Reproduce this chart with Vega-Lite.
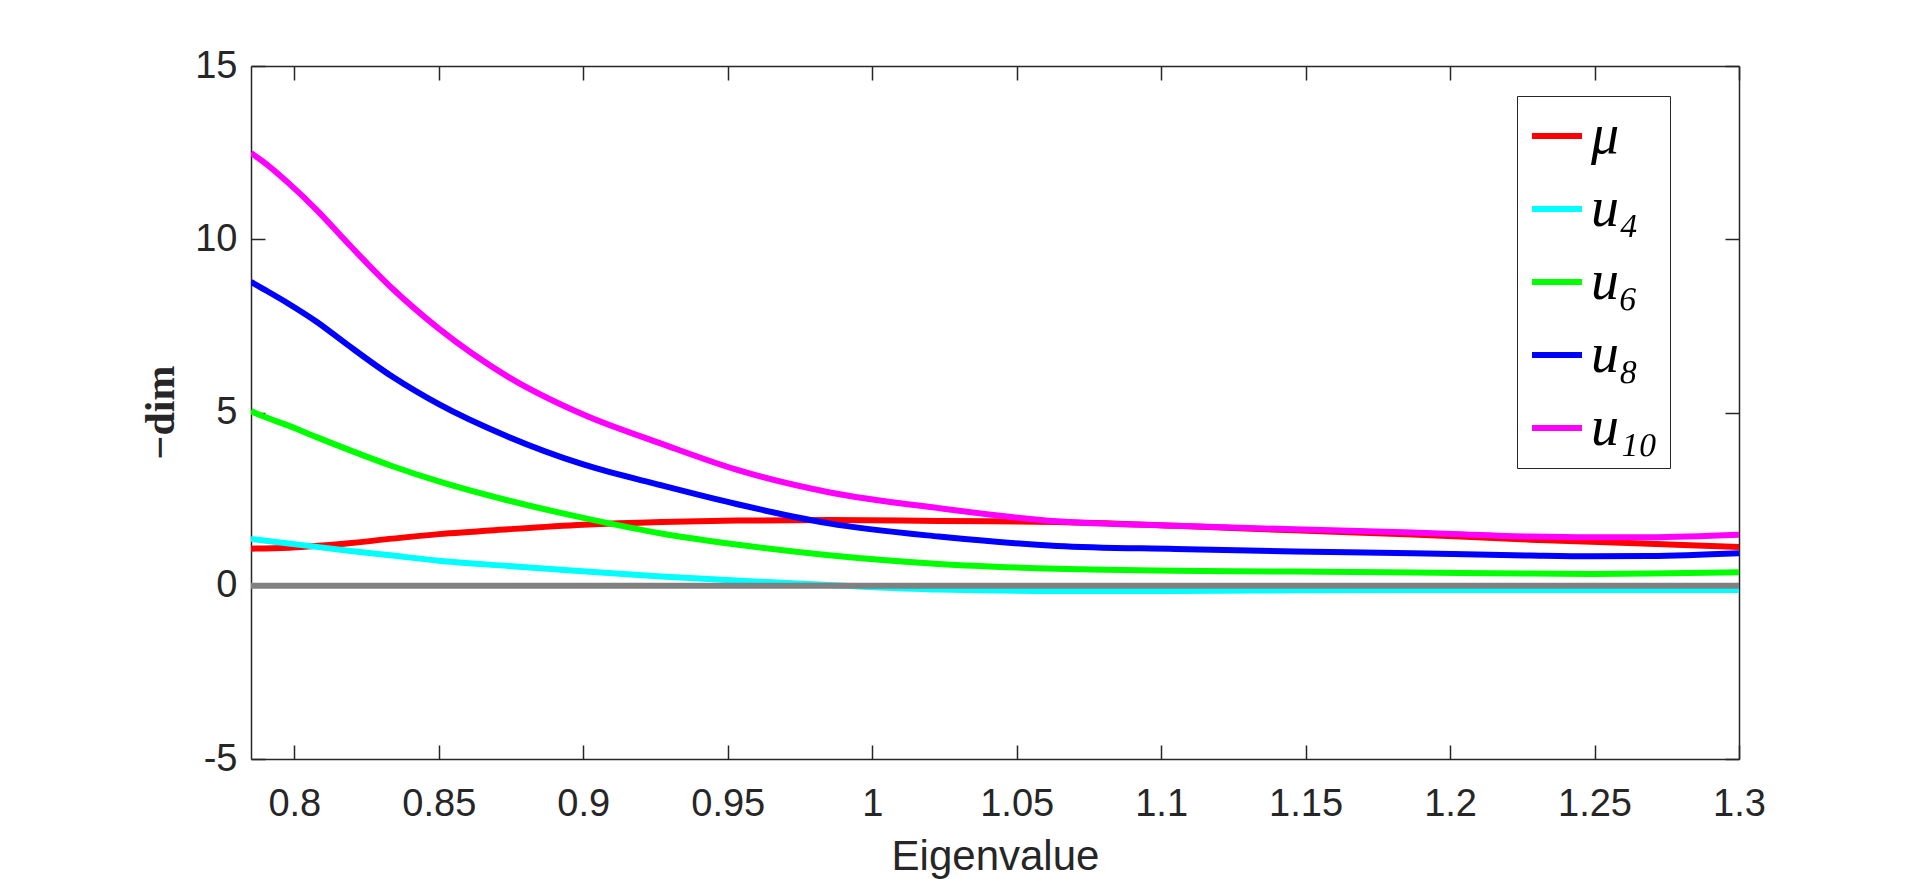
{
  "$schema": "https://vega.github.io/schema/vega-lite/v6.json",
  "width": 1488,
  "height": 693,
  "autosize": {"type": "none"},
  "padding": {"left": 251, "top": 66, "right": 181, "bottom": 120},
  "background": "white",
  "config": {
    "view": {"stroke": null},
    "axis": {
      "grid": false,
      "domainColor": "#262626",
      "domainWidth": 1.5,
      "tickColor": "#262626",
      "tickWidth": 1.5,
      "tickSize": -14,
      "labelColor": "#262626",
      "labelFont": "Liberation Sans",
      "labelFontSize": 38,
      "labelFlush": false,
      "labelOverlap": false,
      "labelBound": false,
      "titleColor": "#262626"
    }
  },
  "datasets": {
    "curves": [
      {"s": "μ", "x": 0.785, "y": 1.07},
      {"s": "μ", "x": 0.798, "y": 1.1},
      {"s": "μ", "x": 0.818, "y": 1.22},
      {"s": "μ", "x": 0.834, "y": 1.36},
      {"s": "μ", "x": 0.85, "y": 1.49},
      {"s": "μ", "x": 0.874, "y": 1.63},
      {"s": "μ", "x": 0.9, "y": 1.76},
      {"s": "μ", "x": 0.927, "y": 1.84},
      {"s": "μ", "x": 0.953, "y": 1.88},
      {"s": "μ", "x": 0.985, "y": 1.9},
      {"s": "μ", "x": 1.023, "y": 1.87},
      {"s": "μ", "x": 1.064, "y": 1.84},
      {"s": "μ", "x": 1.105, "y": 1.73},
      {"s": "μ", "x": 1.146, "y": 1.6},
      {"s": "μ", "x": 1.187, "y": 1.48},
      {"s": "μ", "x": 1.228, "y": 1.33},
      {"s": "μ", "x": 1.269, "y": 1.21},
      {"s": "μ", "x": 1.3, "y": 1.12},
      {"s": "u₄", "x": 0.785, "y": 1.35},
      {"s": "u₄", "x": 0.798, "y": 1.22},
      {"s": "u₄", "x": 0.818, "y": 1.02},
      {"s": "u₄", "x": 0.834, "y": 0.87},
      {"s": "u₄", "x": 0.85, "y": 0.72},
      {"s": "u₄", "x": 0.874, "y": 0.57},
      {"s": "u₄", "x": 0.9, "y": 0.42},
      {"s": "u₄", "x": 0.927, "y": 0.27},
      {"s": "u₄", "x": 0.953, "y": 0.15},
      {"s": "u₄", "x": 0.985, "y": 0.02},
      {"s": "u₄", "x": 1.023, "y": -0.11},
      {"s": "u₄", "x": 1.064, "y": -0.15},
      {"s": "u₄", "x": 1.105, "y": -0.15},
      {"s": "u₄", "x": 1.146, "y": -0.13},
      {"s": "u₄", "x": 1.187, "y": -0.12},
      {"s": "u₄", "x": 1.228, "y": -0.12},
      {"s": "u₄", "x": 1.3, "y": -0.12},
      {"s": "u₆", "x": 0.785, "y": 5.04},
      {"s": "u₆", "x": 0.7892, "y": 4.89},
      {"s": "u₆", "x": 0.798, "y": 4.62},
      {"s": "u₆", "x": 0.8077, "y": 4.29},
      {"s": "u₆", "x": 0.818, "y": 3.95},
      {"s": "u₆", "x": 0.834, "y": 3.45},
      {"s": "u₆", "x": 0.85, "y": 3.01},
      {"s": "u₆", "x": 0.874, "y": 2.46},
      {"s": "u₆", "x": 0.9, "y": 1.96},
      {"s": "u₆", "x": 0.927, "y": 1.51},
      {"s": "u₆", "x": 0.953, "y": 1.19},
      {"s": "u₆", "x": 0.985, "y": 0.88},
      {"s": "u₆", "x": 1.023, "y": 0.63},
      {"s": "u₆", "x": 1.064, "y": 0.49},
      {"s": "u₆", "x": 1.105, "y": 0.43},
      {"s": "u₆", "x": 1.146, "y": 0.41},
      {"s": "u₆", "x": 1.187, "y": 0.38},
      {"s": "u₆", "x": 1.228, "y": 0.35},
      {"s": "u₆", "x": 1.249, "y": 0.34},
      {"s": "u₆", "x": 1.269, "y": 0.35},
      {"s": "u₆", "x": 1.3, "y": 0.39},
      {"s": "u₈", "x": 0.785, "y": 8.77},
      {"s": "u₈", "x": 0.7892, "y": 8.57},
      {"s": "u₈", "x": 0.798, "y": 8.14},
      {"s": "u₈", "x": 0.8077, "y": 7.62},
      {"s": "u₈", "x": 0.818, "y": 6.98},
      {"s": "u₈", "x": 0.834, "y": 6.03},
      {"s": "u₈", "x": 0.85, "y": 5.24},
      {"s": "u₈", "x": 0.874, "y": 4.3},
      {"s": "u₈", "x": 0.9, "y": 3.5},
      {"s": "u₈", "x": 0.927, "y": 2.9},
      {"s": "u₈", "x": 0.953, "y": 2.36},
      {"s": "u₈", "x": 0.985, "y": 1.8},
      {"s": "u₈", "x": 1.023, "y": 1.42},
      {"s": "u₈", "x": 1.064, "y": 1.15},
      {"s": "u₈", "x": 1.105, "y": 1.06},
      {"s": "u₈", "x": 1.146, "y": 0.99},
      {"s": "u₈", "x": 1.187, "y": 0.94},
      {"s": "u₈", "x": 1.228, "y": 0.87},
      {"s": "u₈", "x": 1.249, "y": 0.85},
      {"s": "u₈", "x": 1.269, "y": 0.86},
      {"s": "u₈", "x": 1.3, "y": 0.94},
      {"s": "u₁₀", "x": 0.785, "y": 12.49},
      {"s": "u₁₀", "x": 0.7892, "y": 12.24},
      {"s": "u₁₀", "x": 0.798, "y": 11.62},
      {"s": "u₁₀", "x": 0.8077, "y": 10.85},
      {"s": "u₁₀", "x": 0.818, "y": 9.93},
      {"s": "u₁₀", "x": 0.834, "y": 8.57},
      {"s": "u₁₀", "x": 0.85, "y": 7.42},
      {"s": "u₁₀", "x": 0.874, "y": 6.03},
      {"s": "u₁₀", "x": 0.9, "y": 4.94},
      {"s": "u₁₀", "x": 0.927, "y": 4.1},
      {"s": "u₁₀", "x": 0.953, "y": 3.35},
      {"s": "u₁₀", "x": 0.985, "y": 2.7},
      {"s": "u₁₀", "x": 1.023, "y": 2.24},
      {"s": "u₁₀", "x": 1.064, "y": 1.86},
      {"s": "u₁₀", "x": 1.105, "y": 1.73},
      {"s": "u₁₀", "x": 1.146, "y": 1.63},
      {"s": "u₁₀", "x": 1.187, "y": 1.54},
      {"s": "u₁₀", "x": 1.228, "y": 1.42},
      {"s": "u₁₀", "x": 1.249, "y": 1.4},
      {"s": "u₁₀", "x": 1.269, "y": 1.4},
      {"s": "u₁₀", "x": 1.3, "y": 1.47}
    ],
    "zero": [
      {"x": 0.785, "y": 0},
      {"x": 1.3, "y": 0}
    ]
  },
  "layer": [
    {
      "data": {"name": "curves"},
      "mark": {"type": "line", "strokeWidth": 6, "interpolate": "monotone", "clip": true},
      "encoding": {
        "x": {
          "field": "x",
          "type": "quantitative",
          "scale": {"domain": [0.785, 1.3], "nice": false, "zero": false},
          "axis": {
            "orient": "bottom",
            "values": [0.8, 0.85, 0.9, 0.95, 1, 1.05, 1.1, 1.15, 1.2, 1.25, 1.3],
            "labelExpr": "'' + datum.value",
            "labelPadding": 40,
            "title": "Eigenvalue",
            "titleFont": "Liberation Sans",
            "titleFontSize": 42,
            "titleFontWeight": "normal",
            "titleBaseline": "alphabetic",
            "titleY": 110
          }
        },
        "y": {
          "field": "y",
          "type": "quantitative",
          "scale": {"domain": [-5, 15], "nice": false, "zero": false},
          "axis": {
            "orient": "left",
            "values": [-5, 0, 5, 10, 15],
            "labelExpr": "'' + datum.value",
            "labelPadding": 28,
            "title": "−dim",
            "titleFont": "Liberation Serif",
            "titleFontSize": 42,
            "titleFontWeight": "bold",
            "titleAngle": -90,
            "titleAlign": "center",
            "titleBaseline": "alphabetic",
            "titleX": -78,
            "titleY": 346
          }
        },
        "color": {
          "field": "s",
          "type": "nominal",
          "sort": null,
          "scale": {
            "domain": ["μ", "u₄", "u₆", "u₈", "u₁₀"],
            "range": ["#ff0000", "#00ffff", "#00ff00", "#0000ff", "#ff00ff"]
          },
          "legend": {
            "title": null,
            "orient": "none",
            "legendX": 1266,
            "legendY": 30,
            "symbolType": "stroke",
            "symbolSize": 2500,
            "symbolStrokeWidth": 6,
            "labelFont": "Liberation Serif",
            "labelFontStyle": "italic",
            "labelFontSize": 56,
            "labelColor": "black",
            "labelOffset": 6,
            "rowPadding": 17,
            "padding": 12,
            "strokeColor": "#262626",
            "fillColor": "white"
          }
        }
      }
    },
    {
      "data": {"name": "zero"},
      "mark": {"type": "line", "strokeWidth": 6, "color": "#808080"},
      "encoding": {
        "x": {
          "field": "x",
          "type": "quantitative",
          "axis": {
            "orient": "top",
            "values": [0.8, 0.85, 0.9, 0.95, 1, 1.05, 1.1, 1.15, 1.2, 1.25, 1.3],
            "labels": false,
            "title": null
          }
        },
        "y": {
          "field": "y",
          "type": "quantitative",
          "axis": {
            "orient": "right",
            "values": [-5, 0, 5, 10, 15],
            "labels": false,
            "title": null
          }
        }
      }
    }
  ],
  "resolve": {"axis": {"x": "independent", "y": "independent"}}
}
